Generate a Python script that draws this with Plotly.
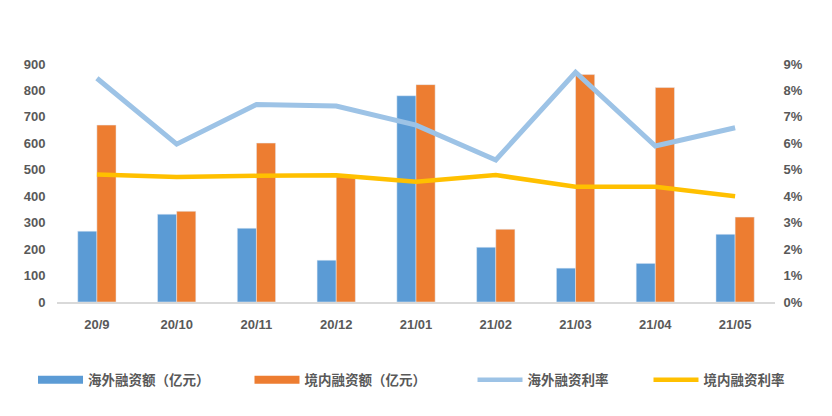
import plotly.graph_objects as go

months = ["20/9", "20/10", "20/11", "20/12", "21/01", "21/02", "21/03", "21/04", "21/05"]
overseas_amt = [268, 332, 279, 158, 780, 207, 128, 146, 256]
domestic_amt = [669, 343, 601, 476, 822, 275, 860, 811, 321]
overseas_rate = [0.0846, 0.0597, 0.0747, 0.0741, 0.0669, 0.0537, 0.0869, 0.0590, 0.0659]
domestic_rate = [0.0482, 0.0473, 0.0477, 0.0479, 0.0455, 0.0480, 0.0436, 0.0436, 0.0400]

names = ["海外融资额（亿元）", "境内融资额（亿元）", "海外融资利率", "境内融资利率"]
c_blue, c_orange, c_lblue, c_yellow = "#5B9BD5", "#ED7D31", "#9DC3E6", "#FFC000"

fig = go.Figure()
fig.add_trace(go.Bar(x=months, y=overseas_amt, marker_color=c_blue, name=names[0], showlegend=False))
fig.add_trace(go.Bar(x=months, y=domestic_amt, marker_color=c_orange, name=names[1], showlegend=False))
fig.add_trace(go.Scatter(x=months, y=overseas_rate, mode="lines", line=dict(color=c_lblue, width=5),
                         yaxis="y2", name=names[2], showlegend=False))
fig.add_trace(go.Scatter(x=months, y=domestic_rate, mode="lines", line=dict(color=c_yellow, width=4.5),
                         yaxis="y2", name=names[3], showlegend=False))

# legend entries, each in its own legend box
legend_keys = ["legend", "legend2", "legend3", "legend4"]
legend_x = [-0.0334, 0.2681, 0.5787, 0.8238]
for nm, col, w, lk in zip(names, [c_blue, c_orange, c_lblue, c_yellow], [8, 8, 4.5, 4.5], legend_keys):
    fig.add_trace(go.Scatter(x=[None], y=[None], mode="lines", line=dict(color=col, width=w),
                             name=nm, legend=lk))

tick_font = dict(family="Liberation Sans, Arial", size=13, color="#595959", weight="bold")
legend_common = dict(orientation="h", xanchor="left", y=-0.328, yanchor="middle",
                     font=dict(family="Noto Sans CJK SC", size=13.5, color="#595959", weight="bold"),
                     itemwidth=45, bgcolor="rgba(0,0,0,0)")
fig.update_layout(
    width=824, height=408,
    margin=dict(l=49, r=57, t=56, b=114),
    paper_bgcolor="white", plot_bgcolor="white",
    barmode="group", bargap=0.52, bargroupgap=0,
    font=dict(family="Noto Sans CJK SC", color="#595959"),
    xaxis=dict(showgrid=False, showline=True, linecolor="#D9D9D9", linewidth=1.5,
               tickfont=tick_font, ticks="outside", ticklen=10, tickcolor="rgba(0,0,0,0)"),
    yaxis=dict(range=[0, 900], dtick=100, showgrid=False, zeroline=False,
               tickfont=tick_font, ticks="outside", ticklen=8, tickcolor="rgba(0,0,0,0)"),
    yaxis2=dict(range=[0, 0.09], dtick=0.01, tickformat=".0%", overlaying="y", side="right",
                showgrid=False, zeroline=False, tickfont=tick_font,
                ticks="outside", ticklen=5, tickcolor="rgba(0,0,0,0)"),
)
for lk, lx in zip(legend_keys, legend_x):
    fig.update_layout({lk: dict(legend_common, x=lx)})
fig.write_html("out.html")
